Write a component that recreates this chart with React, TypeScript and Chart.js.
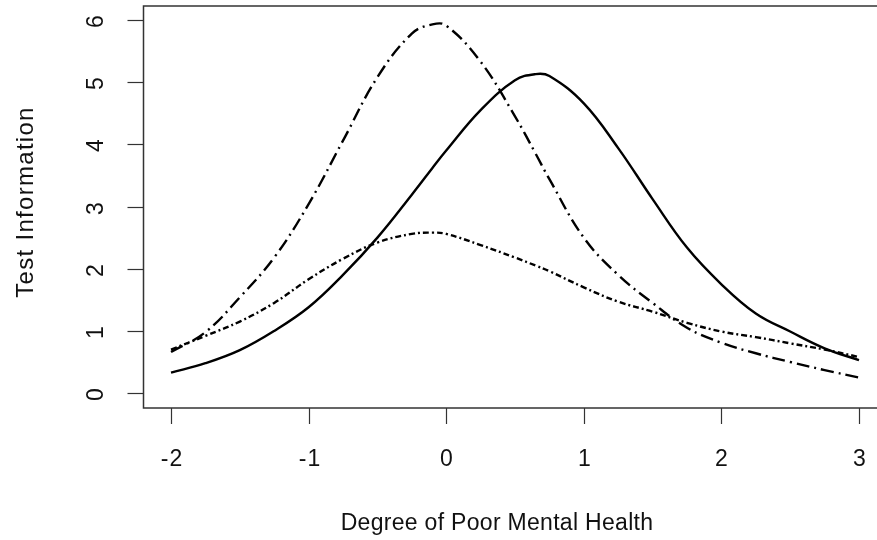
import React, { useEffect, useRef } from "react";
import { Chart, registerables } from "chart.js";

Chart.register(...registerables);

const theta = [-2, -1.75, -1.5, -1.25, -1, -0.75, -0.5, -0.25, -0.1, 0, 0.25, 0.5, 0.65, 0.75, 1, 1.25, 1.5, 1.75, 2, 2.25, 2.5, 2.75, 3];
const solidInfo = [0.33, 0.48, 0.69, 1.0, 1.38, 1.9, 2.5, 3.19, 3.62, 3.9, 4.55, 5.03, 5.13, 5.1, 4.66, 3.94, 3.12, 2.34, 1.75, 1.28, 0.99, 0.72, 0.53];
const dashDotInfo = [0.66, 0.98, 1.54, 2.18, 3.04, 4.06, 5.08, 5.78, 5.93, 5.91, 5.33, 4.45, 3.85, 3.44, 2.5, 1.9, 1.45, 1.05, 0.81, 0.64, 0.5, 0.37, 0.25];
const dottedInfo = [0.7, 0.92, 1.15, 1.45, 1.83, 2.16, 2.42, 2.56, 2.58, 2.56, 2.38, 2.18, 2.05, 1.96, 1.7, 1.47, 1.31, 1.13, 0.99, 0.9, 0.8, 0.7, 0.58];

const xTicks = [-2, -1, 0, 1, 2, 3];
const yTicks = [0, 1, 2, 3, 4, 5, 6];
const xTitle = "Degree of Poor Mental Health";
const yTitle = "Test Information";

const FAMILY = '"Liberation Sans", Arial, sans-serif';

export default function App() {
  const ref = useRef<HTMLCanvasElement | null>(null);
  useEffect(() => {
    if (!ref.current) return;
    const mk = (vals: number[]) => theta.map((t, i) => ({ x: t, y: vals[i] }));
    const framePlugin = {
      id: "rframe",
      afterDraw(chart: any) {
        const ctx = chart.ctx;
        const xs = chart.scales.x;
        const ys = chart.scales.y;
        const ca = chart.chartArea;
        ctx.save();
        ctx.strokeStyle = "#333";
        ctx.lineWidth = 1.5;
        ctx.strokeRect(ca.left, ca.top, ca.right - ca.left, ca.bottom - ca.top);
        ctx.lineWidth = 1.2;
        ctx.fillStyle = "#111";
        ctx.font = "23px " + FAMILY;
        ctx.textAlign = "center";
        ctx.textBaseline = "middle";
        (ctx as any).letterSpacing = "1px";
        for (const t of xTicks) {
          const px = Math.round(xs.getPixelForValue(t)) + 0.5;
          ctx.beginPath();
          ctx.moveTo(px, ca.bottom);
          ctx.lineTo(px, ca.bottom + 16);
          ctx.stroke();
          ctx.fillText(String(t), px + 0.5, 460);
        }
        for (const t of yTicks) {
          const py = Math.round(ys.getPixelForValue(t)) + 0.5;
          ctx.beginPath();
          ctx.moveTo(ca.left, py);
          ctx.lineTo(ca.left - 16, py);
          ctx.stroke();
          ctx.save();
          ctx.translate(97, py + 0.5);
          ctx.rotate(-Math.PI / 2);
          ctx.fillText(String(t), 0, 0);
          ctx.restore();
        }
        (ctx as any).letterSpacing = "0.3px";
        ctx.fillText(xTitle, 497, 524);
        ctx.save();
        ctx.font = "24px " + FAMILY;
        (ctx as any).letterSpacing = "1.3px";
        ctx.translate(26, 202);
        ctx.rotate(-Math.PI / 2);
        ctx.fillText(yTitle, 0, 0);
        ctx.restore();
        ctx.restore();
      },
    };
    const common = {
      borderColor: "#000",
      borderWidth: 2.4,
      pointRadius: 0,
      fill: false,
      tension: 0.4,
      borderCapStyle: "butt" as const,
    };
    const chart = new Chart(ref.current, {
      type: "line",
      data: {
        datasets: [
          { ...common, label: "Solid", data: mk(solidInfo) },
          { ...common, label: "Dash-dot", data: mk(dashDotInfo), borderDash: [13, 5, 2, 5] },
          { ...common, label: "Dotted", data: mk(dottedInfo), borderDash: [6, 3, 2, 3] },
        ],
      },
      options: {
        animation: false,
        responsive: false,
        events: [],
        layout: { padding: { left: 143.5, right: 13.5, top: 6, bottom: 132 } },
        plugins: { legend: { display: false }, tooltip: { enabled: false } },
        scales: {
          x: { type: "linear", min: -2.2, max: 3.2, display: false },
          y: { type: "linear", min: -0.24, max: 6.225, display: false },
        },
      },
      plugins: [framePlugin],
    });
    return () => chart.destroy();
  }, []);
  return (
    <div style={{ position: "fixed", left: 0, top: 0, width: 877, height: 540, overflow: "hidden", background: "#fff" }}>
      <canvas ref={ref} width={900} height={540} style={{ display: "block" }} />
    </div>
  );
}
